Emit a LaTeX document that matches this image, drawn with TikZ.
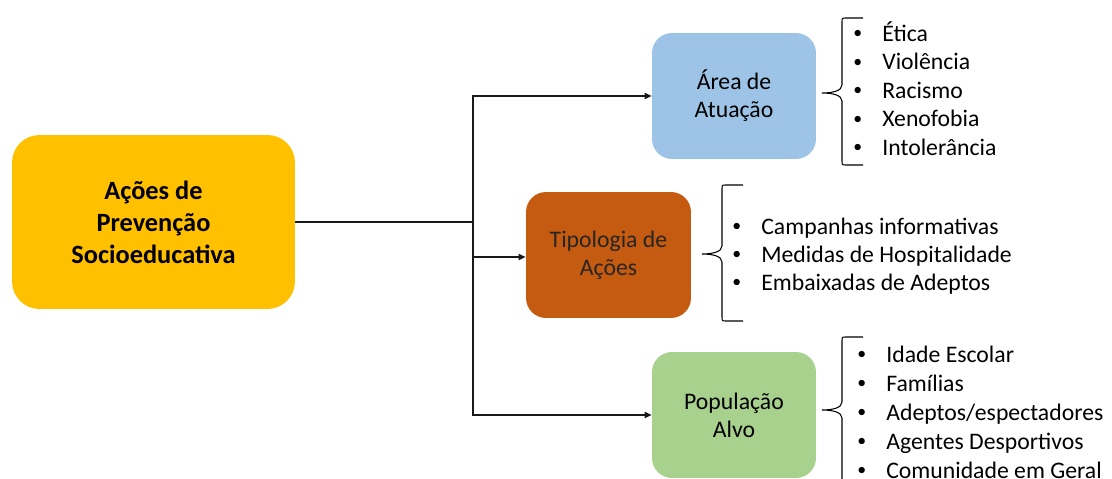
\documentclass[tikz,border=0pt]{standalone}
\usepackage{fontspec}
\setmainfont{Carlito}
\usepackage{graphicx}
\usepackage{tikz}
\usetikzlibrary{arrows.meta}

\definecolor{acaoyellow}{HTML}{FFC000}
\definecolor{areablue}{HTML}{9DC3E6}
\definecolor{tipoorange}{HTML}{C55A11}
\definecolor{popgreen}{HTML}{A9D18E}

\newcommand{\bul}{\makebox[0.58cm][l]{\raisebox{0.1em}{\scalebox{0.75}{\textbullet}}}}
% brace: vertical x, top y, tip y, bottom y
\newcommand{\listbrace}[4]{%
  \draw[bracestyle] ({#1+21},#2) -- ({#1+4},#2) .. controls (#1,#2) .. (#1,{#2+4})
    -- (#1,{#3-8}) .. controls (#1,{#3-2}) and ({#1-10},#3) .. ({#1-20},#3)
    .. controls ({#1-10},#3) and (#1,{#3+2}) .. (#1,{#3+8})
    -- (#1,{#4-4}) .. controls (#1,#4) .. ({#1+4},#4) -- ({#1+21},#4);}

\tikzset{
  box/.style={rectangle, rounded corners=0.4cm, minimum width=3.28cm, minimum height=2.52cm, align=center, font=\fontsize{13.5}{16}\selectfont},
  item/.style={anchor=mid west, inner sep=0pt, font=\fontsize{13.5}{16}\selectfont},
  conn/.style={line width=0.8pt, black!90},
  bracestyle/.style={line width=0.6pt, black}
}

\begin{document}
\begin{tikzpicture}[x=0.02cm, y=-0.02cm]
  \useasboundingbox (0,0) rectangle (1112,479);

  \node at (153.5,222) [rectangle, rounded corners=0.55cm, fill=acaoyellow, minimum width=5.66cm, minimum height=3.48cm, align=center, font=\fontsize{15}{18.2}\selectfont\bfseries] (acoes) {Ações de\\Prevenção\\Socioeducativa};
  \node at (734,96) [box, fill=areablue] (area) {Área de\\Atuação};
  \node at (608.5,255) [box, fill=tipoorange, minimum width=3.3cm, text=black!85] (tipo) {Tipologia de\\Ações};
  \node at (734,415) [box, fill=popgreen] (pop) {População\\Alvo};

  \coordinate (split) at (473,222);
  \draw [conn, line width=1.2pt] (acoes.east) -- (split);
  \draw [conn, -{Triangle[length=4pt, width=3.5pt]}] (split) |- (area.west);
  \draw [conn, -{Triangle[length=4pt, width=3.5pt]}] (split) |- ([yshift=-0.04cm]tipo.west);
  \draw [conn, -{Triangle[length=4pt, width=3.5pt]}] (split) |- (pop.west);

  % braces next to the boxes
  \listbrace{842}{18}{93}{165}
  \listbrace{722}{185}{254}{321}
  \listbrace{842}{337}{410}{492}

  \node at (853,37) [item] (etica) {\bul Ética};
  \node at (853,65.5) [item] (violencia) {\bul Violência};
  \node at (853,94) [item] (racismo) {\bul Racismo};
  \node at (853,122.5) [item] (xenofobia) {\bul Xenofobia};
  \node at (853,151) [item] (intolerancia) {\bul Intolerância};

  \node at (732,230) [item] (campanhas) {\bul Campanhas informativas};
  \node at (732,258) [item] (medidas) {\bul Medidas de Hospitalidade};
  \node at (732,286) [item] (embaixadas) {\bul Embaixadas de Adeptos};

  \node at (857,358) [item] (idade) {\bul Idade Escolar};
  \node at (857,387) [item] (familias) {\bul Famílias};
  \node at (857,416) [item] (adeptos) {\bul Adeptos/espectadores};
  \node at (857,445) [item] (agentes) {\bul Agentes Desportivos};
  \node at (857,474) [item] (comunidade) {\bul Comunidade em Geral};
\end{tikzpicture}
\end{document}
